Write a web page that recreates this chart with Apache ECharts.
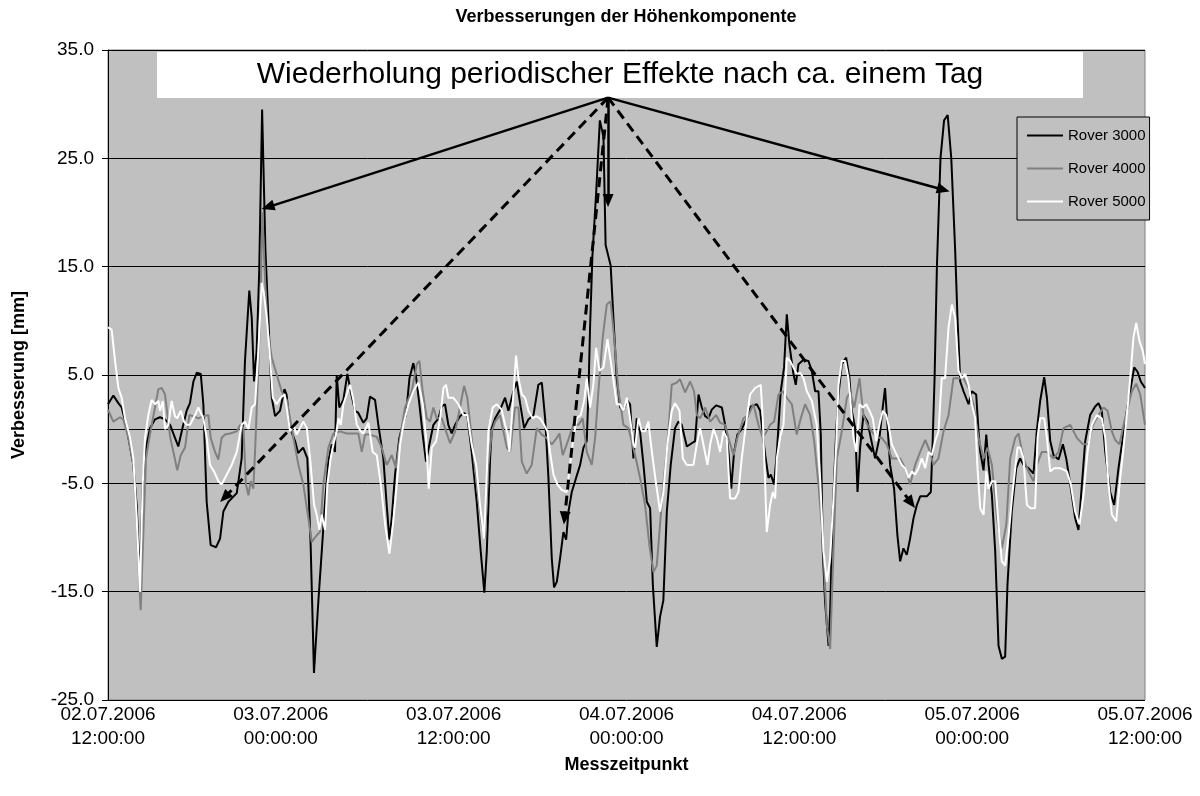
<!DOCTYPE html>
<html>
<head>
<meta charset="utf-8">
<script src="https://cdn.jsdelivr.net/npm/echarts@6/dist/echarts.min.js"></script>
<style>
  html, body { margin: 0; padding: 0; background: #fff; }
  #chart { width: 1200px; height: 796px; }
</style>
</head>
<body>
<div id="chart"></div>
<script>
// Start of the time axis: 02.07.2006 12:00:00; x values are hours after it.
const START_MS = Date.UTC(2006, 6, 2, 12, 0, 0);
const xTicksHours = [0, 12, 24, 36, 48, 60, 72];
const yTicks = [-25, -15, -5, 5, 15, 25, 35];

const seriesNames = ['Rover 3000', 'Rover 4000', 'Rover 5000'];

// [hours since start, height correction in mm]
const rover3000 = [
  [0,2.3],[0.37,3.1],[0.72,2.4],[0.95,2.0],[1.3,0.1],[1.76,-3.3],[1.99,-7.0],[2.22,-14.1],[2.41,-5.1],[2.64,-1.7],
  [2.92,0.1],[3.26,0.9],[3.61,1.1],[3.96,0.9],[4.31,0.4],[4.65,-0.8],[4.88,-1.6],[5.12,-0.2],[5.46,1.7],[5.69,2.4],
  [5.93,4.4],[6.16,5.2],[6.44,5.1],[6.62,2.3],[6.85,-6.7],[7.13,-10.7],[7.5,-10.9],[7.78,-10.1],[8.01,-7.6],[8.36,-6.7],
  [8.94,-5.9],[9.28,-2.7],[9.51,6.3],[9.81,12.8],[9.98,10.3],[10.14,4.4],[10.32,7.2],[10.5,14.6],[10.7,29.5],[10.93,16.5],
  [11.37,2.9],[11.6,1.2],[11.94,1.7],[12.25,3.7],[12.4,3.2],[12.64,0.1],[12.99,-1.1],[13.2,-2.2],[13.55,-1.7],[13.84,-2.7],
  [14.07,-10.7],[14.3,-22.5],[14.6,-16.0],[14.84,-11.3],[15.07,-6.7],[15.3,-3.0],[15.53,-1.4],[15.76,-2.1],[15.88,5.0],[16.06,2.0],
  [16.34,2.7],[16.62,5.1],[16.85,3.5],[17.15,1.7],[17.38,1.5],[17.73,0.6],[17.96,1.0],[18.19,3.0],[18.54,2.7],[18.77,0.4],
  [19.12,-2.7],[19.35,-7.0],[19.54,-10.2],[19.7,-8.2],[19.93,-4.2],[20.23,-0.8],[20.46,0.4],[20.69,1.3],[20.93,4.7],[21.2,6.1],
  [21.39,4.8],[21.62,2.3],[21.85,-0.5],[22.08,-3.0],[22.36,-1.1],[22.59,0.4],[22.94,1.0],[23.17,2.1],[23.4,2.3],[23.63,0.4],
  [23.86,-0.4],[24.1,0.4],[24.44,1.2],[24.72,1.5],[24.95,1.2],[25.25,-2.1],[25.6,-6.7],[25.88,-11.3],[26.13,-15.1],[26.3,-11.3],
  [26.53,-2.7],[26.65,0.1],[26.88,1.0],[27.22,1.8],[27.57,2.9],[27.8,1.7],[28.15,3.5],[28.38,4.4],[28.61,2.4],[28.89,0.1],
  [29.19,0.9],[29.54,1.3],[29.88,4.1],[30.12,4.3],[30.35,1.0],[30.58,-4.5],[30.81,-11.9],[30.97,-14.6],[31.16,-14.1],[31.39,-11.9],
  [31.62,-9.5],[31.81,-10.2],[31.97,-7.6],[32.2,-5.8],[32.5,-4.5],[32.78,-3.3],[33.01,-1.7],[33.24,-1.1],[33.36,3.5],[33.47,9.4],
  [33.63,15.9],[33.9,22.0],[34.15,28.5],[34.4,27.0],[34.55,17.0],[34.9,15.1],[35.09,10.3],[35.32,4.7],[35.56,2.0],[35.79,1.7],
  [36.02,2.7],[36.25,2.3],[36.48,-2.7],[36.71,1.0],[36.94,-0.2],[37.18,-3.3],[37.41,-6.7],[37.64,-7.3],[37.83,-14.4],[38.1,-20.1],
  [38.33,-17.3],[38.56,-15.8],[38.8,-7.6],[39.07,-3.3],[39.37,0.1],[39.6,0.7],[39.83,0.4],[40.19,-1.6],[40.53,-1.3],[40.76,-1.1],
  [41.0,3.2],[41.23,2.0],[41.46,1.2],[41.69,1.0],[41.92,1.8],[42.22,2.2],[42.62,2.0],[42.85,0.4],[43.08,-2.1],[43.27,-5.5],
  [43.47,-2.1],[43.7,-0.5],[44.0,0.0],[44.35,1.0],[44.63,2.1],[45.05,2.3],[45.28,1.7],[45.63,-2.4],[45.86,-4.5],[46.02,-4.2],
  [46.25,-5.1],[46.44,-2.1],[46.71,3.5],[46.94,5.7],[47.13,10.6],[47.31,7.8],[47.59,5.1],[47.75,4.1],[47.94,6.0],[48.29,6.4],
  [48.63,6.3],[48.86,5.4],[49.1,3.5],[49.33,3.5],[49.49,-0.5],[49.63,-11.3],[49.79,-16.0],[50.03,-20.0],[50.14,-16.8],[50.32,-7.6],
  [50.56,-0.2],[50.72,3.2],[50.95,6.0],[51.25,6.6],[51.48,4.7],[51.64,1.7],[51.88,0.1],[52.04,-5.8],[52.22,-1.7],[52.45,1.3],
  [52.73,0.7],[52.96,-0.8],[53.26,-2.7],[53.56,-0.8],[53.79,2.0],[53.95,3.8],[54.12,0.4],[54.3,-3.3],[54.58,-5.5],[54.81,-9.8],
  [55.0,-12.2],[55.23,-11.0],[55.46,-11.6],[55.69,-10.1],[55.93,-8.2],[56.16,-7.0],[56.39,-6.2],[56.85,-6.2],[57.13,-5.8],[57.25,-1.4],
  [57.39,4.7],[57.55,14.9],[57.8,25.0],[58.05,28.5],[58.3,29.0],[58.55,25.0],[58.82,16.5],[58.98,10.3],[59.17,4.4],[59.4,3.5],
  [59.75,2.3],[59.98,3.5],[60.28,3.2],[60.44,-0.2],[60.56,-2.1],[60.79,-3.8],[60.98,-0.5],[61.14,-3.3],[61.37,-6.1],[61.6,-11.3],
  [61.83,-20.0],[62.06,-21.2],[62.29,-21.0],[62.45,-14.4],[62.75,-7.6],[63.06,-3.6],[63.33,-2.7],[63.56,-3.3],[63.91,-3.6],[64.26,-4.1],
  [64.49,-0.1],[64.72,2.6],[65.0,4.8],[65.19,2.9],[65.42,-1.1],[65.65,-2.4],[66.0,-2.8],[66.3,-1.4],[66.53,-2.7],[66.81,-5.1],
  [67.15,-8.2],[67.38,-9.3],[67.62,-5.1],[67.85,-1.1],[68.19,1.3],[68.54,2.1],[68.77,2.4],[69.0,1.7],[69.24,-2.1],[69.58,-5.8],
  [69.86,-7.0],[70.16,-3.6],[70.46,-0.8],[70.74,1.7],[70.97,3.5],[71.25,5.7],[71.48,5.3],[71.71,4.4],[72.0,3.8]
];

const rover4000 = [
  [0,1.8],[0.37,0.7],[0.83,1.1],[1.06,0.9],[1.41,-0.8],[1.76,-3.3],[1.99,-8.2],[2.18,-14.4],[2.27,-16.7],[2.41,-11.3],
  [2.64,-2.7],[2.87,-0.8],[3.26,2.0],[3.5,3.7],[3.73,3.8],[3.96,3.2],[4.31,-0.7],[4.54,-2.1],[4.81,-3.8],[5.05,-2.4],
  [5.35,-1.7],[5.65,1.3],[5.93,1.2],[6.27,1.0],[6.62,1.2],[6.97,1.3],[7.13,-0.8],[7.43,-2.1],[7.66,-2.8],[7.89,-0.8],
  [8.13,-0.5],[8.47,-0.4],[8.94,-0.2],[9.17,0.4],[9.4,0.1],[9.58,-5.1],[9.75,-6.1],[9.91,-4.8],[10.09,-5.5],[10.21,-2.1],
  [10.39,4.1],[10.56,10.3],[10.72,20.0],[10.9,14.0],[11.1,9.0],[11.37,6.6],[12.06,3.5],[12.41,2.7],[12.64,1.0],[12.87,-0.8],
  [13.22,-3.3],[13.56,-5.1],[13.91,-8.2],[14.14,-10.4],[14.49,-9.8],[14.72,-9.5],[14.95,-5.1],[15.3,-1.7],[15.65,-0.4],[16.11,-0.2],
  [16.57,-0.4],[17.04,-0.4],[17.38,-0.4],[17.62,-2.1],[17.85,-0.5],[18.08,-0.5],[18.66,-0.7],[19.0,-1.7],[19.35,-3.3],[19.7,-2.4],
  [20.0,-3.6],[20.28,-0.8],[20.62,2.0],[21.09,3.5],[21.44,6.0],[21.62,6.3],[21.85,3.5],[22.13,1.0],[22.36,0.7],[22.59,2.0],
  [22.82,1.0],[23.17,1.0],[23.47,-0.2],[23.75,-1.3],[24.1,-0.2],[24.44,2.0],[24.72,4.0],[24.95,2.9],[25.25,-0.8],[25.6,-5.1],
  [25.95,-8.8],[26.18,-10.1],[26.41,-3.3],[26.65,-0.2],[26.88,0.7],[27.22,1.3],[27.69,-1.7],[27.92,-2.1],[28.26,2.0],[28.5,2.0],
  [28.73,-3.0],[29.07,-4.1],[29.42,-3.3],[29.77,0.1],[30.12,-0.5],[30.46,-0.8],[30.81,-1.4],[31.16,-0.8],[31.34,-0.4],[31.57,-2.4],
  [31.85,-1.4],[32.31,0.4],[32.66,0.4],[32.96,1.0],[33.24,-2.1],[33.59,-3.3],[33.82,-0.8],[34.05,3.5],[34.35,8.5],[34.63,11.5],
  [34.9,11.8],[35.14,8.5],[35.44,3.5],[35.79,0.4],[36.13,0.1],[36.6,-2.4],[36.94,-4.5],[37.29,-7.0],[37.59,-10.7],[37.87,-13.2],
  [38.1,-12.6],[38.33,-8.8],[38.56,-5.1],[38.84,-1.4],[39.14,4.1],[39.49,4.3],[39.72,4.6],[40.07,3.4],[40.42,4.4],[40.69,3.5],
  [40.88,1.3],[41.11,1.0],[41.46,2.0],[41.81,0.7],[42.22,1.3],[42.5,0.6],[42.85,0.4],[43.08,-0.8],[43.43,-2.4],[43.7,-0.8],
  [44.12,1.0],[44.47,1.3],[44.81,2.3],[45.16,0.4],[45.46,-0.8],[45.74,-0.2],[45.97,0.4],[46.25,0.7],[46.55,3.2],[46.85,3.5],
  [47.13,2.9],[47.48,2.3],[47.82,-0.5],[48.1,1.0],[48.4,2.3],[48.75,1.3],[49.03,-1.1],[49.33,-5.1],[49.63,-10.1],[49.91,-18.1],
  [50.14,-20.3],[50.37,-11.3],[50.6,-2.7],[50.95,-0.2],[51.3,2.9],[51.53,3.4],[51.81,2.0],[52.18,4.7],[52.45,1.3],[52.73,0.4],
  [53.03,-0.2],[53.38,-0.8],[53.72,-0.8],[54.07,-1.4],[54.42,-2.7],[54.77,-2.7],[55.0,-2.7],[55.35,-3.6],[55.69,-5.1],[56.04,-3.3],
  [56.39,-2.1],[56.74,-1.0],[57.08,-2.1],[57.31,-3.3],[57.66,-2.7],[58.01,-0.2],[58.36,1.3],[58.7,4.7],[59.05,4.7],[59.4,4.7],
  [59.75,3.8],[60.09,2.3],[60.44,-0.8],[60.79,-2.7],[61.07,-1.7],[61.37,-3.3],[61.72,-8.2],[62.06,-11.0],[62.37,-8.8],[62.64,-2.7],
  [62.99,-0.8],[63.22,-0.4],[63.56,-2.7],[63.91,-3.9],[64.26,-4.8],[64.49,-3.3],[64.84,-2.1],[65.19,-2.1],[65.65,-2.7],[66.0,-2.1],
  [66.34,0.1],[66.81,0.4],[67.27,-0.8],[67.69,-1.4],[68.08,-1.4],[68.38,0.4],[68.77,1.3],[69.12,2.0],[69.4,1.7],[69.7,-0.2],
  [69.93,-1.0],[70.23,-1.4],[70.51,0.4],[70.86,2.3],[71.09,3.5],[71.39,4.2],[71.67,3.2],[72.0,0.4]
];

const rover5000 = [
  [0,9.4],[0.25,9.2],[0.49,6.3],[0.72,3.8],[0.95,2.9],[1.18,1.0],[1.53,-0.8],[1.76,-2.7],[1.99,-8.2],[2.22,-15.0],
  [2.41,-5.1],[2.57,-0.8],[2.8,1.3],[3.03,2.7],[3.26,2.3],[3.5,2.6],[3.61,1.7],[3.8,2.6],[3.96,0.0],[4.19,0.4],
  [4.42,2.6],[4.65,1.2],[4.81,1.0],[5.05,1.7],[5.28,0.7],[5.46,0.4],[5.69,0.4],[6.04,1.3],[6.27,2.0],[6.62,1.0],
  [6.85,-0.8],[7.08,-3.3],[7.36,-3.9],[7.66,-4.8],[7.89,-5.1],[8.24,-4.2],[8.59,-3.3],[8.94,-2.1],[9.28,0.4],[9.51,0.7],
  [9.75,0.0],[9.98,2.0],[10.21,2.3],[10.44,7.2],[10.67,13.5],[10.83,12.5],[11.02,10.3],[11.25,6.6],[11.44,2.9],[11.71,2.3],
  [11.99,2.9],[12.25,3.2],[12.41,2.0],[12.64,-0.2],[12.87,0.4],[13.1,-0.5],[13.33,0.1],[13.56,0.7],[13.8,0.1],[14.03,-2.7],
  [14.31,-7.0],[14.49,-7.9],[14.68,-9.3],[14.84,-7.9],[15.07,-9.3],[15.23,-5.1],[15.46,-2.7],[15.65,-1.4],[15.83,-0.5],[16.0,1.0],
  [16.16,0.4],[16.34,2.3],[16.57,3.2],[16.81,4.1],[17.04,2.7],[17.27,0.4],[17.55,-0.2],[17.73,-0.4],[18.08,0.6],[18.38,-2.1],
  [18.66,-2.4],[18.94,-5.1],[19.24,-8.8],[19.54,-11.5],[19.81,-8.5],[20.05,-5.1],[20.28,-1.4],[20.51,0.4],[20.86,2.3],[21.2,3.5],
  [21.55,4.3],[21.85,2.3],[22.08,-0.8],[22.27,-5.5],[22.48,-1.7],[22.78,-1.1],[23.06,1.0],[23.29,3.8],[23.47,4.1],[23.63,2.9],
  [23.98,2.9],[24.33,2.3],[24.68,1.3],[24.95,1.3],[25.25,-1.4],[25.56,-3.3],[25.83,-7.0],[26.11,-10.1],[26.25,-5.8],[26.41,-0.2],
  [26.71,2.0],[26.99,2.3],[27.33,1.8],[27.57,0.4],[27.76,-0.5],[27.87,-2.1],[28.03,1.0],[28.19,4.1],[28.33,6.8],[28.5,4.7],
  [28.73,3.2],[28.96,2.9],[29.19,1.7],[29.49,1.0],[29.72,1.2],[30.0,1.0],[30.28,0.4],[30.51,-0.2],[30.69,-2.1],[30.93,-4.2],
  [31.2,-5.1],[31.5,-5.6],[31.85,-5.8],[32.08,-3.3],[32.31,-0.8],[32.55,1.0],[32.82,1.3],[33.06,2.6],[33.24,4.7],[33.47,2.0],
  [33.7,4.1],[33.89,7.5],[34.12,5.4],[34.4,5.7],[34.68,8.3],[34.9,6.3],[35.14,4.1],[35.32,2.3],[35.56,2.3],[35.79,1.7],
  [36.02,2.9],[36.25,1.0],[36.48,-1.4],[36.6,-1.7],[36.83,1.0],[37.06,-0.2],[37.29,-0.2],[37.52,0.7],[37.76,-2.1],[38.06,-5.1],
  [38.33,-7.6],[38.56,-5.8],[38.84,-1.4],[39.14,1.7],[39.37,2.4],[39.68,1.7],[39.91,-2.7],[40.19,-3.3],[40.65,-3.3],[40.88,-1.4],
  [41.11,0.1],[41.34,-1.4],[41.62,-3.3],[41.81,-1.4],[42.04,0.0],[42.27,-0.8],[42.5,-2.1],[42.73,-0.2],[42.96,-0.8],[43.19,-6.4],
  [43.54,-6.4],[43.77,-5.8],[44.0,-2.7],[44.35,1.0],[44.58,3.2],[44.93,3.8],[45.32,4.1],[45.46,1.0],[45.63,-5.1],[45.74,-9.5],
  [45.97,-7.0],[46.16,-5.8],[46.32,-6.4],[46.44,-2.7],[46.67,-0.7],[46.9,0.4],[47.13,6.6],[47.36,6.3],[47.59,5.7],[47.82,5.1],
  [48.06,5.2],[48.29,4.7],[48.52,3.5],[48.87,2.6],[49.21,0.4],[49.44,-4.5],[49.68,-11.3],[49.91,-14.1],[50.14,-11.9],[50.37,-6.4],
  [50.56,-1.4],[50.72,4.1],[50.95,6.3],[51.18,6.3],[51.41,4.7],[51.57,2.3],[51.76,-0.8],[51.95,-2.1],[52.18,2.3],[52.41,2.0],
  [52.64,2.3],[52.87,1.7],[53.1,1.0],[53.33,-1.1],[53.56,0.4],[53.79,1.7],[54.03,1.3],[54.19,0.4],[54.42,-1.4],[54.77,-2.4],
  [55.11,-3.3],[55.35,-3.6],[55.58,-4.5],[55.81,-3.9],[56.04,-4.2],[56.27,-3.6],[56.5,-2.7],[56.74,-3.6],[56.97,-2.1],[57.2,-2.4],
  [57.43,-1.1],[57.66,-0.2],[57.89,4.7],[58.12,4.7],[58.36,9.4],[58.59,11.5],[58.82,10.3],[59.05,5.4],[59.28,4.7],[59.51,5.1],
  [59.75,4.1],[59.98,2.3],[60.21,1.0],[60.37,-3.6],[60.56,-7.3],[60.79,-7.9],[60.98,-3.9],[61.14,-5.5],[61.37,-4.8],[61.6,-4.8],
  [61.83,-8.8],[62.06,-12.2],[62.29,-12.6],[62.53,-9.8],[62.76,-6.4],[62.99,-3.6],[63.15,-1.7],[63.33,-1.7],[63.56,-2.7],[63.8,-7.0],
  [64.07,-7.3],[64.37,-7.3],[64.54,-0.8],[64.72,1.0],[65.0,1.0],[65.19,-0.8],[65.42,-3.9],[65.69,-3.6],[66.11,-3.6],[66.57,-3.9],
  [66.85,-5.1],[67.15,-7.6],[67.45,-8.8],[67.73,-6.1],[68.01,-2.1],[68.31,0.4],[68.66,1.3],[69.0,1.0],[69.24,-0.8],[69.47,-5.1],
  [69.7,-7.9],[70.0,-8.5],[70.23,-5.1],[70.51,-1.7],[70.79,2.0],[71.02,5.4],[71.2,8.5],[71.39,9.8],[71.62,8.1],[71.85,7.2],[72.0,6.0]
];

// Annotation arrows [from, to] in data space (hours, mm)
const arrowOrigin = [34.72, 30.6];
const solidArrowTips = [[11.1, 20.5], [34.72, 21.1], [58.0, 22.1]];
const dashedArrowTips = [[8.1, -6.3], [31.7, -8.2], [55.76, -6.8]];

const annotationText = 'Wiederholung periodischer Effekte nach ca. einem Tag';
const titleText = 'Verbesserungen der Höhenkomponente';
const xAxisTitle = 'Messzeitpunkt';
const yAxisTitle = 'Verbesserung [mm]';

const FONT = '"Liberation Sans", Arial, sans-serif';
const pad2 = n => (n < 10 ? '0' : '') + n;
function formatStamp(hours) {
  const d = new Date(START_MS + hours * 3600000);
  return pad2(d.getUTCDate()) + '.' + pad2(d.getUTCMonth() + 1) + '.' + d.getUTCFullYear() +
    '\n' + pad2(d.getUTCHours()) + ':' + pad2(d.getUTCMinutes()) + ':' + pad2(d.getUTCSeconds());
}

const arrowLines = (tips, dashed) => tips.map(t => [
  { coord: arrowOrigin },
  { coord: t, lineStyle: { type: dashed ? [10, 6] : 'solid', width: dashed ? 3 : 2.5, color: '#000' } }
]);

const chart = echarts.init(document.getElementById('chart'), null, { renderer: 'canvas' });

const lineColors = ['#000000', '#808080', '#FFFFFF'];
const lineData = [rover3000, rover4000, rover5000];

const series = seriesNames.map((name, i) => ({
  name: name,
  type: 'line',
  xAxisIndex: 0,
  data: lineData[i],
  showSymbol: false,
  symbol: 'none',
  color: lineColors[i],
  lineStyle: { color: lineColors[i], width: 2 },
  animation: false,
  silent: true,
  z: 3
}));

series.push({
  name: 'arrows',
  type: 'line',
  data: [],
  z: 10,
  silent: true,
  animation: false,
  markLine: {
    silent: true,
    animation: false,
    symbol: ['none', 'triangle'],
    symbolSize: [11, 13],
    label: { show: false },
    emphasis: { disabled: true },
    lineStyle: { color: '#000', width: 2.5, type: 'solid' },
    data: arrowLines(solidArrowTips, false).concat(arrowLines(dashedArrowTips, true))
  }
});

chart.setOption({
  backgroundColor: '#ffffff',
  animation: false,
  textStyle: { fontFamily: FONT },
  grid: {
    left: 108, right: 55, top: 50, bottom: 96,
    show: true, backgroundColor: '#C0C0C0', borderColor: '#808080', borderWidth: 1
  },
  legend: {
    data: seriesNames,
    orient: 'vertical',
    left: 1017, top: 117,
    padding: [9, 4, 9, 10],
    itemGap: 14,
    itemWidth: 36, itemHeight: 2,
    icon: 'rect',
    backgroundColor: '#C0C0C0',
    borderColor: '#000', borderWidth: 1,
    textStyle: { fontFamily: FONT, fontSize: 15, color: '#000', lineHeight: 19 },
    selectedMode: false
  },
  xAxis: [{
    type: 'value',
    min: xTicksHours[0], max: xTicksHours[xTicksHours.length - 1], interval: 12,
    position: 'bottom',
    axisLine: { show: false, onZero: false },
    axisTick: { show: false },
    splitLine: { show: false },
    axisLabel: {
      formatter: v => formatStamp(v),
      fontFamily: FONT, fontSize: 19, color: '#000', lineHeight: 24, margin: 3
    },
    name: xAxisTitle, nameLocation: 'middle', nameGap: 56,
    nameTextStyle: { fontFamily: FONT, fontSize: 18, fontWeight: 'bold', color: '#000' }
  }, {
    // the horizontal axis crosses the value axis at 0
    type: 'value', min: 0, max: 72, position: 'top',
    axisLine: { show: true, onZero: true, lineStyle: { color: '#000', width: 1 } },
    axisTick: { show: false }, axisLabel: { show: false }, splitLine: { show: false }
  }],
  yAxis: {
    type: 'value',
    min: yTicks[0], max: yTicks[yTicks.length - 1], interval: 10,
    axisLine: { show: true, lineStyle: { color: '#000', width: 1 } },
    axisTick: { show: true, inside: false, length: 6, lineStyle: { color: '#000' } },
    splitLine: { show: true, lineStyle: { color: '#000', width: 1 } },
    axisLabel: {
      formatter: v => v.toFixed(1),
      fontFamily: FONT, fontSize: 19, color: '#000', margin: 14
    },
    name: yAxisTitle, nameLocation: 'middle', nameGap: 80, nameRotate: 90,
    nameTextStyle: { fontFamily: FONT, fontSize: 18, fontWeight: 'bold', color: '#000' }
  },
  graphic: [
    {
      type: 'text', x: 626, y: 8, z: 20,
      style: { text: titleText, font: 'bold 18px ' + FONT, fill: '#000', textAlign: 'center', textVerticalAlign: 'top' }
    },
    {
      type: 'rect', z: 5,
      shape: { x: 157, y: 52, width: 926, height: 46 },
      style: { fill: '#FFFFFF' }
    },
    {
      type: 'text', x: 620, y: 75, z: 6,
      style: { text: annotationText, font: '30px ' + FONT, fill: '#000', textAlign: 'center', textVerticalAlign: 'middle' }
    }
  ],
  series: series
});
</script>
</body>
</html>
